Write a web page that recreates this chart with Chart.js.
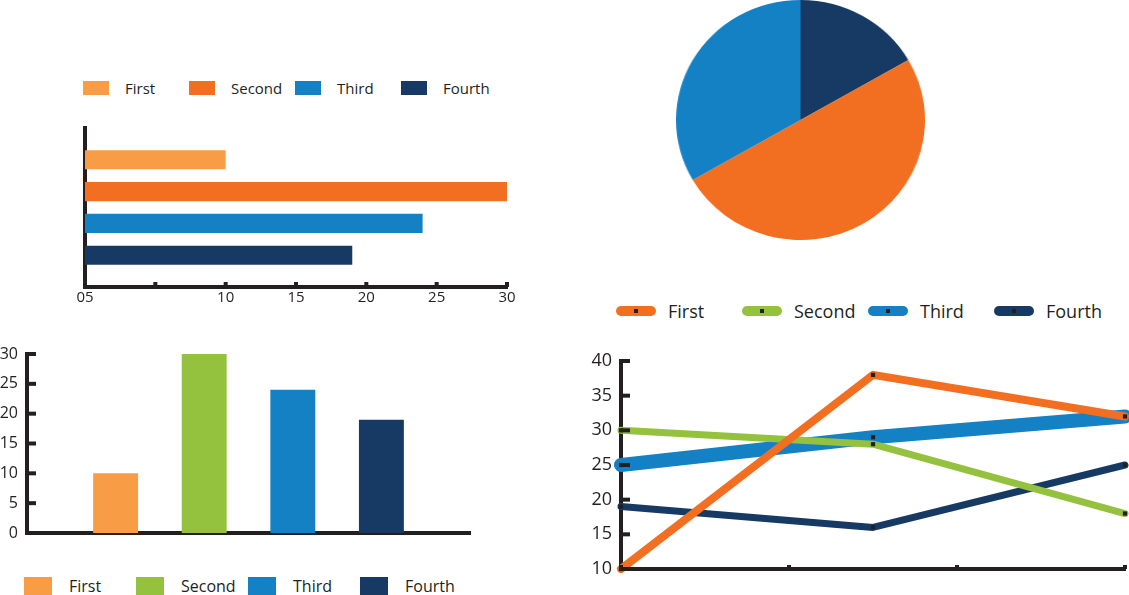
<!DOCTYPE html>
<html>
<head>
<meta charset="utf-8">
<script src="https://cdn.jsdelivr.net/npm/chart.js@4.4.1/dist/chart.umd.min.js"></script>
<style>
  html, body { margin: 0; padding: 0; background: #fff; }
  body { width: 1129px; height: 595px; position: relative; overflow: hidden; font-family: 'Open Sans', sans-serif; color: #231F20; }
  canvas { position: absolute; }
  #hbar { left: 60px; top: 108px; }
  #vbar { left: 0; top: 335px; }
  #line { left: 556px; top: 340px; }
  /* the reference pie is a little wider than tall */
  #pie { left: 676px; top: 0; transform: scaleX(1.0375); transform-origin: left top; }
  .legend { position: absolute; display: flex; align-items: center; white-space: nowrap; }
  .legend .item { display: flex; align-items: center; }
  #hbarLegend { left: 83px; top: 78px; font-size: 15px; line-height: 20px; }
  #hbarLegend .item { width: 106px; }
  #hbarLegend .box { width: 26px; height: 14px; margin-right: 16px; }
  #vbarLegend { left: 24px; top: 575px; font-size: 16px; line-height: 22px; }
  #vbarLegend .item { width: 112px; }
  #vbarLegend .box { width: 28px; height: 18px; margin-right: 17px; }
  #lineLegend { left: 616px; top: 299px; font-size: 18px; line-height: 24px; }
  #lineLegend .item { width: 126px; }
  #lineLegend .box { width: 40px; height: 10px; border-radius: 5px; margin-right: 12px; position: relative; }
  #lineLegend .box::after { content: ''; position: absolute; left: 18px; top: 3px; width: 4px; height: 4px; background: #231F20; }
</style>
</head>
<body>
<div id="hbarLegend" class="legend"></div>
<canvas id="hbar" width="470" height="212"></canvas>
<canvas id="pie" width="240" height="240"></canvas>
<div id="vbarLegend" class="legend"></div>
<canvas id="vbar" width="490" height="220"></canvas>
<div id="lineLegend" class="legend"></div>
<canvas id="line" width="573" height="255"></canvas>
<script>
// data
const categories = ['First', 'Second', 'Third', 'Fourth'];
const hbarValues = [10, 30, 24, 19];
const hbarTickLabels = ['05', '', '10', '15', '20', '25', '30'];
const vbarValues = [10, 30, 24, 19];
const pieLabels = ['Fourth', 'Second', 'Third'];
const pieValues = [10, 30, 20];
const lineSteps = [0, 1.5, 3];
const firstLine = [10, 38, 32];
const secondLine = [30, 28, 18];
const thirdLine = [25, 29, 32];
const fourthLine = [19, 16, 25];

// styles
const INK = '#231F20';
const FONT = "'Open Sans', sans-serif";
const hbarColors = ['#F89D45', '#F26F22', '#1581C5', '#163A63'];
const vbarColors = ['#F89D45', '#94C13E', '#1581C5', '#163A63'];
const lineColors = ['#F26F22', '#94C13E', '#1581C5', '#163A63'];
const pieColors = ['#163A63', '#F26F22', '#1581C5'];
const lineWidths = [8, 7, 14, 7];

function makeLegend(id, colors) {
  const el = document.getElementById(id);
  categories.forEach((name, i) => {
    const item = document.createElement('div');
    item.className = 'item';
    const box = document.createElement('span');
    box.className = 'box';
    box.style.background = colors[i];
    const txt = document.createElement('span');
    txt.textContent = name;
    item.appendChild(box);
    item.appendChild(txt);
    el.appendChild(item);
  });
}
makeLegend('hbarLegend', hbarColors);
makeLegend('vbarLegend', vbarColors);
makeLegend('lineLegend', lineColors);

// small tick nubs drawn on the inner side of an axis
function innerTicks(marks) {
  return {
    id: 'innerTicks',
    afterDraw(chart) {
      const ctx = chart.ctx;
      ctx.save();
      ctx.fillStyle = INK;
      marks.forEach(m => {
        const s = chart.scales[m.axis];
        s.ticks.forEach((t, i) => {
          const p = s.getPixelForTick(i);
          if (s.isHorizontal()) ctx.fillRect(p - m.w / 2, s.top - m.len, m.w, m.len);
          else ctx.fillRect(s.right, p - m.w / 2, m.len, m.w);
        });
      });
      ctx.restore();
    }
  };
}

const padded = ['', ...categories, ''];
const common = {
  responsive: false,
  animation: false,
  plugins: { legend: { display: false }, tooltip: { enabled: false } }
};

new Chart(document.getElementById('hbar'), {
  type: 'bar',
  data: {
    labels: padded,
    datasets: [{
      data: [null, ...hbarValues, null],
      backgroundColor: ['transparent', ...hbarColors, 'transparent'],
      barPercentage: 0.6,
      categoryPercentage: 1
    }]
  },
  options: {
    ...common,
    indexAxis: 'y',
    layout: { padding: { top: 20, right: 23, left: 0, bottom: 0 } },
    scales: {
      x: {
        type: 'linear', min: 0, max: 30, z: 1,
        ticks: { stepSize: 5, padding: 2, color: INK, font: { family: FONT, size: 15 }, callback: (v, i) => hbarTickLabels[i] },
        grid: { display: false, drawTicks: false },
        border: { color: INK, width: 4 },
        afterFit: s => { s.height = 33; }
      },
      y: {
        type: 'category', offset: false, z: 1,
        ticks: { display: false },
        grid: { display: false, drawTicks: false },
        border: { color: INK, width: 4 },
        afterFit: s => { s.width = 25; }
      }
    }
  },
  plugins: [innerTicks([{ axis: 'x', len: 5, w: 4 }])]
});

new Chart(document.getElementById('pie'), {
  type: 'pie',
  data: { labels: pieLabels, datasets: [{ data: pieValues, backgroundColor: pieColors, borderWidth: 0 }] },
  options: { ...common, layout: { padding: 0 } }
});

new Chart(document.getElementById('vbar'), {
  type: 'bar',
  data: {
    labels: padded,
    datasets: [{
      data: [null, ...vbarValues, null],
      backgroundColor: ['transparent', ...vbarColors, 'transparent'],
      barPercentage: 0.507,
      categoryPercentage: 1
    }]
  },
  options: {
    ...common,
    layout: { padding: { top: 19, right: 20, left: 0, bottom: 0 } },
    scales: {
      x: {
        type: 'category', offset: false, z: 1,
        ticks: { display: false },
        grid: { display: false, drawTicks: false },
        border: { color: INK, width: 4 },
        afterFit: s => { s.height = 22; }
      },
      y: {
        type: 'linear', min: 0, max: 30, z: 1,
        ticks: { stepSize: 5, padding: 9, color: INK, font: { family: FONT, size: 16 } },
        grid: { display: false, drawTicks: false },
        border: { color: INK, width: 4 },
        afterFit: s => { s.width = 27; }
      }
    }
  },
  plugins: [innerTicks([{ axis: 'y', len: 9, w: 4 }])]
});

const lineSeries = [firstLine, secondLine, thirdLine, fourthLine];
new Chart(document.getElementById('line'), {
  type: 'line',
  data: {
    datasets: categories.map((name, k) => ({
      label: name,
      data: lineSeries[k].map((v, i) => ({ x: lineSteps[i], y: v })),
      borderColor: lineColors[k],
      borderWidth: lineWidths[k],
      borderCapStyle: 'round',
      borderJoinStyle: 'round',
      pointStyle: 'rect',
      pointRadius: 3,
      pointBackgroundColor: INK,
      pointBorderWidth: 0,
      tension: 0,
      clip: false
    }))
  },
  options: {
    ...common,
    layout: { padding: { top: 21, right: 4, left: 0, bottom: 0 } },
    scales: {
      x: {
        type: 'linear', min: 0, max: 3,
        ticks: { stepSize: 1, display: false },
        grid: { display: false, drawTicks: false },
        border: { color: INK, width: 4 },
        afterFit: s => { s.height = 26; }
      },
      y: {
        type: 'linear', min: 10, max: 40,
        ticks: { stepSize: 5, padding: 9, color: INK, font: { family: FONT, size: 18 } },
        grid: { display: false, drawTicks: false },
        border: { color: INK, width: 4 },
        afterFit: s => { s.width = 65; }
      }
    }
  },
  plugins: [innerTicks([{ axis: 'x', len: 4, w: 4 }, { axis: 'y', len: 9, w: 4 }])]
});
</script>
</body>
</html>
